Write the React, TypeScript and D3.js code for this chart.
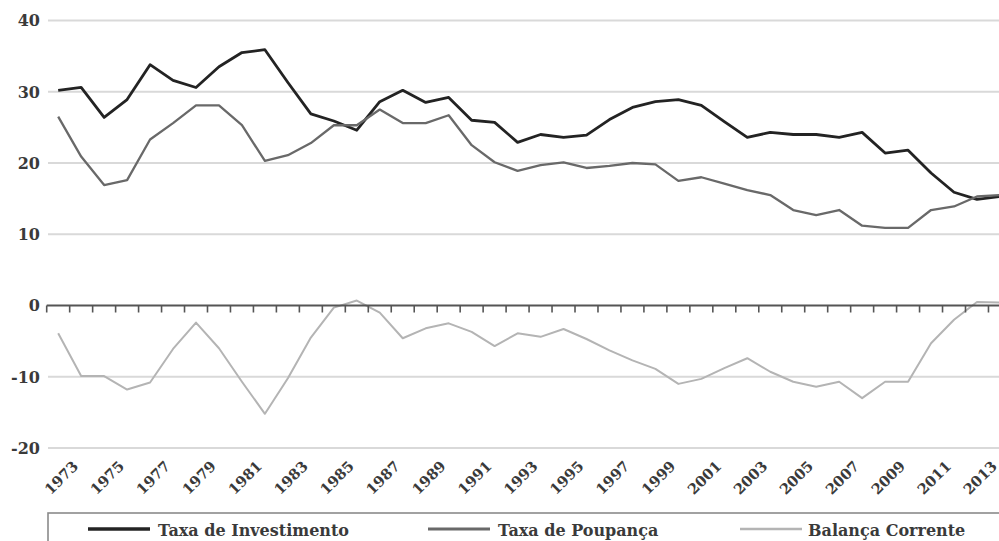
import React from "react";
import * as d3 from "d3";

const years: number[] = d3.range(1973, 2015);
const investimento: number[] = [
  30.2, 30.6, 26.4, 28.9, 33.8, 31.6, 30.6, 33.5, 35.5, 35.9,
  31.3, 26.9, 25.9, 24.6, 28.6, 30.2, 28.5, 29.2, 26.0, 25.7,
  22.9, 24.0, 23.6, 23.9, 26.1, 27.8, 28.6, 28.9, 28.1, 25.8,
  23.6, 24.3, 24.0, 24.0, 23.6, 24.3, 21.4, 21.8, 18.6, 15.9,
  14.9, 15.3,
];
const poupanca: number[] = [
  26.5, 20.9, 16.9, 17.6, 23.3, 25.6, 28.1, 28.1, 25.3, 20.3,
  21.1, 22.8, 25.3, 25.3, 27.5, 25.6, 25.6, 26.7, 22.5, 20.1,
  18.9, 19.7, 20.1, 19.3, 19.6, 20.0, 19.8, 17.5, 18.0, 17.1,
  16.2, 15.5, 13.4, 12.7, 13.4, 11.2, 10.9, 10.9, 13.4, 13.9,
  15.3, 15.5,
];
const balanca: number[] = [
  -3.9, -9.9, -9.9, -11.8, -10.8, -6.1, -2.4, -6.0, -10.7, -15.2,
  -10.2, -4.5, -0.3, 0.7, -1.0, -4.6, -3.2, -2.5, -3.7, -5.7,
  -3.9, -4.4, -3.3, -4.7, -6.3, -7.7, -8.9, -11.0, -10.3, -8.8,
  -7.4, -9.3, -10.7, -11.4, -10.7, -13.0, -10.7, -10.7, -5.3, -2.0,
  0.5, 0.4,
];
const yTicks: number[] = [-20, -10, 0, 10, 20, 30, 40];
const gridValues: number[] = [-20, -10, 10, 20, 30, 40];
const labelYears: number[] = d3.range(1973, 2014, 2);

const seriesNames = ["Taxa de Investimento", "Taxa de Poupança", "Balança Corrente"];
const seriesColors = ["#232323", "#696969", "#b4b4b4"];
const seriesWidths = [2.8, 2.3, 2];

const W = 999;
const H = 541;
const FONT = "'DejaVu Serif', serif";

export default function App() {
  const x = d3
    .scaleBand<number>()
    .domain(years)
    .range([46.7, 46.7 + 42 * 22.97])
    .paddingInner(0)
    .paddingOuter(0);
  const y = d3.scaleLinear().domain([-20, 40]).range([448, 20.5]);
  const cx = (yr: number) => (x(yr) as number) + x.bandwidth() / 2;

  const line = d3
    .line<number>()
    .x((_, i) => cx(years[i]))
    .y((v) => y(v))
    .curve(d3.curveLinear);

  const data = [investimento, poupanca, balanca];
  const tickXs = years.map((yr) => x(yr) as number).concat([(x(2014) as number) + x.bandwidth()]);

  const legendItems = [
    { lx: 88, tx: 158 },
    { lx: 428, tx: 498 },
    { lx: 740, tx: 808 },
  ];

  return (
    <svg
      width={W}
      height={H}
      style={{ position: "absolute", left: 0, top: 0, background: "#fff" }}
      fontFamily={FONT}
    >
      <rect x={0} y={0} width={W} height={H} fill="#fff" />
      {gridValues.map((v) => (
        <line key={v} x1={48} x2={W} y1={y(v)} y2={y(v)} stroke="#d9d9d9" strokeWidth={2} />
      ))}
      {yTicks.map((v) => (
        <text
          key={v}
          x={40}
          y={y(v)}
          dy="0.36em"
          textAnchor="end"
          fontSize={16}
          fontWeight="bold"
          fill="#3a3a3a"
        >
          {v}
        </text>
      ))}
      {data.map((d, i) => (
        <path
          key={i}
          d={line(d) || ""}
          fill="none"
          stroke={seriesColors[i]}
          strokeWidth={seriesWidths[i]}
          strokeLinejoin="round"
        />
      ))}
      <line x1={46.7} x2={W} y1={y(0)} y2={y(0)} stroke="#555" strokeWidth={2} />
      {tickXs.map((tx, i) => (
        <line key={i} x1={tx} x2={tx} y1={y(0)} y2={y(0) + 7} stroke="#555" strokeWidth={1.6} />
      ))}
      {labelYears.map((yr) => (
        <text
          key={yr}
          transform={`translate(${cx(yr) + 21},${467}) rotate(-45)`}
          textAnchor="end"
          fontSize={14.5}
          fontWeight="bold"
          fill="#3a3a3a"
        >
          {yr}
        </text>
      ))}
      <rect x={48} y={513} width={1000} height={60} fill="none" stroke="#8a8a8a" strokeWidth={1.6} />
      {legendItems.map((it, i) => (
        <g key={i}>
          <line
            x1={it.lx}
            x2={it.lx + 62}
            y1={529}
            y2={529}
            stroke={seriesColors[i]}
            strokeWidth={seriesWidths[i] + 0.6}
          />
          <text x={it.tx} y={536} fontSize={16} fontWeight="bold" fill="#3a3a3a">
            {seriesNames[i]}
          </text>
        </g>
      ))}
    </svg>
  );
}
